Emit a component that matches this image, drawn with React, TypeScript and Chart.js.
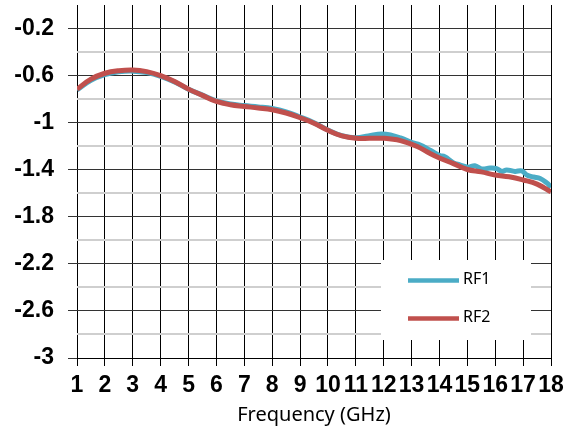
import React, { useEffect, useRef } from "react";
import { Chart, registerables } from "chart.js";

Chart.register(...registerables);

const rf1Freq = [1, 1.5, 2, 2.5, 3, 3.5, 4, 4.5, 5, 5.5, 6, 6.5, 7, 7.5, 8, 8.5, 9, 9.5, 10, 10.5, 11, 11.45, 11.93, 12.3, 12.6, 13.05, 13.29, 13.65, 14.01, 14.19, 14.49, 14.73, 15.03, 15.27, 15.51, 15.81, 16.05, 16.23, 16.41, 16.71, 16.95, 17.13, 17.37, 17.61, 17.85, 18];
const rf1Loss = [-0.722, -0.64, -0.592, -0.568, -0.562, -0.575, -0.606, -0.654, -0.716, -0.766, -0.815, -0.842, -0.855, -0.866, -0.88, -0.908, -0.952, -1.0, -1.062, -1.11, -1.128, -1.113, -1.096, -1.108, -1.13, -1.172, -1.188, -1.232, -1.28, -1.289, -1.34, -1.358, -1.378, -1.366, -1.394, -1.386, -1.39, -1.414, -1.402, -1.414, -1.41, -1.444, -1.462, -1.474, -1.512, -1.548];

const rf2Freq = [1, 1.5, 2, 2.5, 3, 3.5, 4, 4.5, 5, 5.5, 6, 6.5, 7, 7.5, 8, 8.5, 9, 9.5, 10, 10.5, 11, 11.5, 12, 12.6, 13.2, 13.65, 14, 14.5, 15, 15.5, 16, 16.5, 17, 17.5, 18];
const rf2Loss = [-0.716, -0.63, -0.58, -0.558, -0.552, -0.566, -0.6, -0.65, -0.715, -0.768, -0.82, -0.848, -0.862, -0.875, -0.89, -0.918, -0.958, -1.005, -1.065, -1.112, -1.132, -1.133, -1.133, -1.153, -1.203, -1.26, -1.3, -1.348, -1.398, -1.418, -1.445, -1.46, -1.487, -1.522, -1.588];

const seriesNames = ["RF1", "RF2"];
const seriesColors = ["#4BACC6", "#C0504D"];
const xTitle = "Frequency (GHz)";

const legendPlugin = {
  id: "boxLegend",
  afterDraw(chart: any) {
    const ctx = chart.ctx;
    ctx.save();
    ctx.fillStyle = "#ffffff";
    ctx.fillRect(381, 260, 150, 80);
    const rows = [280.5, 318.5];
    seriesNames.forEach((name, i) => {
      ctx.strokeStyle = seriesColors[i];
      ctx.lineWidth = 4.5;
      ctx.beginPath();
      ctx.moveTo(408, rows[i]);
      ctx.lineTo(459, rows[i]);
      ctx.stroke();
      ctx.fillStyle = "#000000";
      ctx.font = '16px "Noto Sans"';
      ctx.textBaseline = "middle";
      ctx.textAlign = "left";
      ctx.fillText(name, 463, rows[i] - 1);
    });
    ctx.restore();
  },
};

function isMajor(v: number) {
  const n = Math.round(-v * 10);
  return n % 4 === 2;
}

export default function App() {
  const ref = useRef<HTMLCanvasElement | null>(null);
  useEffect(() => {
    if (!ref.current) return;
    const chart = new Chart(ref.current, {
      type: "line",
      data: {
        datasets: [
          {
            label: seriesNames[0],
            data: rf1Freq.map((f, i) => ({ x: f, y: rf1Loss[i] })),
            borderColor: seriesColors[0],
            borderWidth: 5,
            pointRadius: 0,
            tension: 0.4,
            order: 1,
          },
          {
            label: seriesNames[1],
            data: rf2Freq.map((f, i) => ({ x: f, y: rf2Loss[i] })),
            borderColor: seriesColors[1],
            borderWidth: 5,
            pointRadius: 0,
            tension: 0.4,
            order: 0,
          },
        ],
      },
      options: {
        animation: false,
        responsive: false,
        maintainAspectRatio: false,
        layout: { padding: { top: 5, right: 23, bottom: 0, left: 0 } },
        plugins: { legend: { display: false }, tooltip: { enabled: false } },
        scales: {
          x: {
            type: "linear",
            min: 1,
            max: 18,
            afterFit(scale: any) {
              scale.height = 74;
              scale.paddingLeft = 0;
              scale.paddingRight = 0;
            },
            ticks: {
              stepSize: 1,
              autoSkip: false,
              maxRotation: 0,
              minRotation: 0,
              padding: 6,
              color: "#000",
              font: { family: '"Liberation Sans", Arial', size: 23, weight: "bold" },
            },
            grid: { color: "#000", lineWidth: 1, tickLength: 8, tickColor: "#000" },
            border: { display: true, color: "#000" },
            title: {
              display: true,
              text: xTitle,
              color: "#000",
              padding: { top: 0, bottom: 5 },
              font: { family: '"Noto Sans"', size: 20 },
            },
          },
          y: {
            type: "linear",
            min: -3,
            max: 0,
            afterFit(scale: any) {
              scale.width = 77;
              scale.paddingTop = 0;
              scale.paddingBottom = 0;
            },
            ticks: {
              stepSize: 0.2,
              autoSkip: false,
              padding: 14,
              color: "#000",
              font: { family: '"Liberation Sans", Arial', size: 23, weight: "bold" },
              callback: (v: any) => {
                const n = Math.round(-Number(v) * 10);
                return n % 4 === 2 ? String(-n / 10) : "";
              },
            },
            grid: {
              tickLength: 9,
              color: (c: any) => {
                const v = c.tick ? c.tick.value : 0;
                if (Math.abs(v) < 1e-6) return "rgba(0,0,0,0)";
                return isMajor(v) ? "#333" : "#cfcfcf";
              },
              lineWidth: (c: any) => {
                const v = c.tick ? c.tick.value : 0;
                return isMajor(v) ? 1 : 2;
              },
              tickColor: (c: any) => {
                const v = c.tick ? c.tick.value : 0;
                return isMajor(v) ? "#333" : "rgba(0,0,0,0)";
              },
            },
            border: { display: false },
          },
        },
      },
      plugins: [legendPlugin],
    } as any);
    return () => chart.destroy();
  }, []);
  return (
    <div style={{ position: "absolute", left: 0, top: 0, width: 574, height: 432, background: "#fff" }}>
      <canvas ref={ref} width={574} height={432} style={{ width: 574, height: 432 }} />
    </div>
  );
}
